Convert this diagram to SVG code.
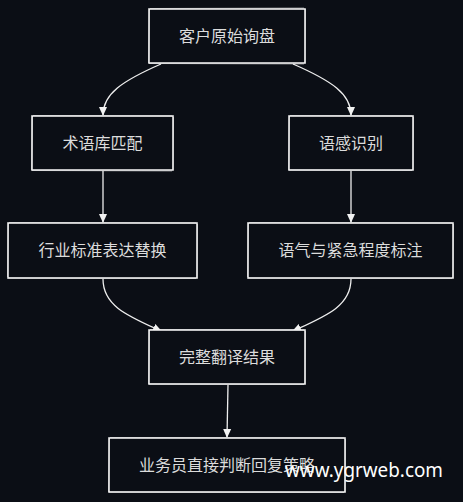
<svg xmlns="http://www.w3.org/2000/svg" width="463" height="502" viewBox="0 0 463 502">
  <defs>
    <marker id="arrow" viewBox="0 0 10 10" refX="9" refY="5" markerWidth="9" markerHeight="9" markerUnits="userSpaceOnUse" orient="auto">
      <path d="M0,0.5 L10,5 L0,9.5 z" fill="#f2f2f2"/>
    </marker>
    <style>
      .box { fill: #0b0e15; stroke: #ececec; stroke-width: 1.6; }
      .box2 { fill: none; stroke: #ffffff; stroke-width: 0.8; opacity: 0.6; }
      .label { font-family: "Noto Sans CJK SC", "Noto Sans", sans-serif; font-size: 16px; fill: #dcdcdc; text-anchor: middle; }
      .edge { fill: none; stroke: #eeeeee; stroke-width: 1.3; marker-end: url(#arrow); }
      .wm { font-family: "Noto Sans", "Open Sans", sans-serif; font-size: 20px; fill: #ffffff; }
    </style>
  </defs>
  <rect x="0" y="0" width="463" height="502" fill="#0b0e15"/>

  <g id="connectors">
    <path class="edge" d="M161,64 C122,81 103,94 103,115"/>
    <path class="edge" d="M293,64 C332,81 351,94 351,115"/>
    <path class="edge" d="M103,171 L103,222"/>
    <path class="edge" d="M351,171 L351,222"/>
    <path class="edge" d="M103,279 C103,306 128,316 161,331"/>
    <path class="edge" d="M351,279 C351,306 326,316 293,331"/>
    <path class="edge" d="M228,385 L227,437"/>
  </g>

  <g id="node-inquiry">
    <rect class="box" x="149" y="9" width="156" height="54"/>
    <path class="box2" d="M150,8.5 L304,8 M305.5,9 L305,63 M304,64 L149,63.5 M148.5,63 L149.5,9"/>
    <text class="label" x="227" y="42">客户原始询盘</text>
  </g>

  <g id="node-term">
    <rect class="box" x="32" y="116" width="141" height="54"/>
    <path class="box2" d="M33,115.5 L172,116 M173.5,117 L173,170 M172,171 L32,170.5 M31.5,170 L32.5,116"/>
    <text class="label" x="102.5" y="149">术语库匹配</text>
  </g>

  <g id="node-tone">
    <rect class="box" x="289" y="116" width="124" height="54"/>
    <path class="box2" d="M290,115.5 L412,116 M413.5,117 L413,170 M412,170.5 L289,170 M288.5,170 L289.5,116"/>
    <text class="label" x="351" y="149">语感识别</text>
  </g>

  <g id="node-replace">
    <rect class="box" x="8" y="223" width="189" height="55"/>
    <path class="box2" d="M9,222.5 L196,223 M197.5,224 L197,278 M196,278.5 L8,278 M7.5,277 L8.5,223"/>
    <text class="label" x="102.5" y="256">行业标准表达替换</text>
  </g>

  <g id="node-mark">
    <rect class="box" x="248" y="223" width="205" height="55"/>
    <path class="box2" d="M249,222.5 L452,223 M453.5,224 L453,278 M452,278.5 L248,278 M247.5,277 L248.5,223"/>
    <text class="label" x="350.5" y="256">语气与紧急程度标注</text>
  </g>

  <g id="node-result">
    <rect class="box" x="149" y="330" width="156" height="54"/>
    <path class="box2" d="M150,329.5 L304,330 M305.5,331 L305,384 M304,384.5 L149,384 M148.5,384 L149.5,330"/>
    <text class="label" x="227" y="363">完整翻译结果</text>
  </g>

  <g id="node-decide">
    <rect class="box" x="109" y="438" width="236" height="54"/>
    <path class="box2" d="M110,437.5 L344,438 M345.5,439 L345,492 M344,492.5 L109,492 M108.5,492 L109.5,438"/>
    <text class="label" x="227" y="471">业务员直接判断回复策略</text>
  </g>

  <text class="wm" x="285" y="477" textLength="158" lengthAdjust="spacingAndGlyphs">www.ygrweb.com</text>
</svg>
